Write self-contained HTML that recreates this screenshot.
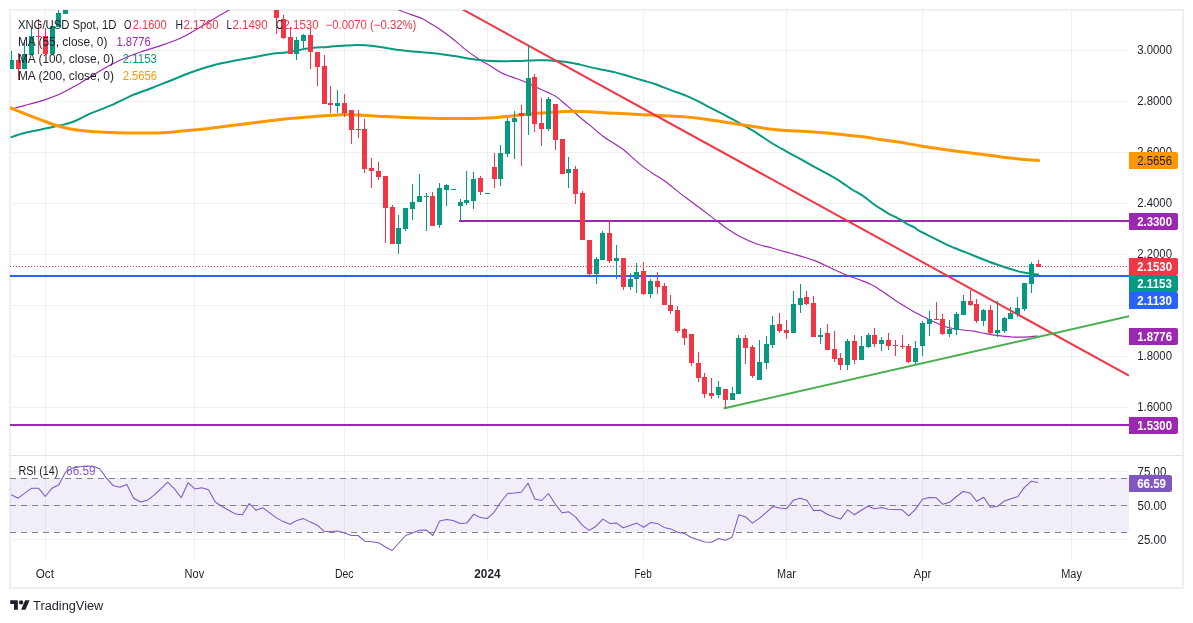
<!DOCTYPE html>
<html lang="en"><head><meta charset="utf-8"><title>XNG/USD Spot, 1D - TradingView</title>
<style>html,body{margin:0;padding:0;background:#fff}body{width:1193px;height:623px;overflow:hidden}svg{display:block}text{font-family:"Liberation Sans",sans-serif;font-size:12px;fill:#1C202B}.b{font-weight:bold;fill:#fff}</style></head><body>
<svg width="1193" height="623" viewBox="0 0 1193 623">
<defs><clipPath id="cp"><rect x="10" y="10" width="1119" height="445"/></clipPath>
<clipPath id="cr"><rect x="10" y="456" width="1119" height="104"/></clipPath></defs>
<rect x="0" y="0" width="1193" height="623" fill="#fff"/>
<rect x="10" y="10" width="1173" height="578" fill="none" stroke="#EDEFF5" stroke-width="2" shape-rendering="crispEdges"/>
<path d="M11 50.5H1129M11 101.5H1129M11 152.5H1129M11 203.5H1129M11 254.5H1129M11 305.5H1129M11 356.5H1129M11 407.5H1129M11 471.5H1129M11 505.5H1129M11 539.5H1129" stroke="#2A2E39" stroke-opacity="0.065" stroke-width="1" fill="none" shape-rendering="crispEdges"/>
<path d="M45.5 11V560M194.5 11V560M344.5 11V560M487.5 11V560M643.5 11V560M786.5 11V560M922.5 11V560M1071.5 11V560" stroke="#2A2E39" stroke-opacity="0.065" stroke-width="1" fill="none" shape-rendering="crispEdges"/>
<rect x="10" y="478" width="1119" height="54" fill="#7E57C2" fill-opacity="0.1"/>
<path d="M10 478.5H1129 M10 505.5H1129 M10 532.5H1129" stroke="#80838D" stroke-width="1" stroke-dasharray="6 5" fill="none" shape-rendering="crispEdges"/>
<g clip-path="url(#cp)">
<path d="M10 276H1129" stroke="#2962FF" stroke-width="2" fill="none"/>
<path d="M10 425H1129 M459 221H1129" stroke="#9C27B0" stroke-width="2" fill="none"/>
<path d="M10.6 109.2C13.0 108.6 19.4 107.0 25.2 105.4C31.0 103.8 39.5 101.5 45.4 99.6C51.3 97.7 55.5 96.1 60.5 93.8C65.5 91.5 70.1 88.8 75.6 85.7C81.1 82.6 87.4 78.4 93.3 74.9C99.2 71.4 105.5 67.7 110.9 64.8C116.4 61.9 121.0 59.7 126 57.5C131.1 55.3 135.3 53.7 141.2 51.7C147.1 49.7 154.6 47.7 161.3 45.4C168.0 43.1 176.0 40.2 181.5 37.8C187.0 35.4 189.1 33.7 194.1 30.8C199.1 27.9 206.0 23.6 211.7 20.2C217.4 16.8 223.4 13.3 228.1 10.6C232.8 7.9 238.0 5.1 240 4M390 5C391.5 5.8 395.4 8.5 398.9 10.1C402.4 11.7 407.3 13.3 411 14.6C414.7 15.9 417.7 16.6 421.1 18.1C424.5 19.7 427.8 21.9 431.2 23.9C434.6 25.9 437.5 27.6 441.3 30.2C445.1 32.9 449.7 36.4 453.9 39.8C458.1 43.2 462.3 47.2 466.5 50.4C470.7 53.6 474.9 56.5 479.1 59.2C483.3 61.9 487.9 64.5 491.7 66.8C495.5 69.1 498.3 71.4 501.7 73.1C505.1 74.8 507.6 75.3 511.8 76.9C516.0 78.5 522.4 80.7 527 82.7C531.6 84.7 535.0 86.5 539.6 88.7C544.2 90.9 550.1 92.9 554.7 95.8C559.3 98.7 563.1 102.3 567.3 105.9C571.5 109.5 576.1 114.0 579.9 117.2C583.7 120.5 586.3 122.3 590.1 125.4C593.9 128.5 598.5 132.8 602.7 136C606.9 139.2 611.8 142.0 615.3 144.3C618.8 146.6 620.9 147.8 623.8 150C626.7 152.2 629.5 154.9 632.6 157.6C635.8 160.3 639.3 163.8 642.7 166.4C646.1 169.0 649.0 170.9 652.8 173.4C656.6 175.9 661.2 178.5 665.4 181.5C669.6 184.5 673.8 188.3 678 191.6C682.2 194.9 686.4 198.0 690.6 201.2C694.8 204.3 699.0 207.3 703.2 210.5C707.4 213.7 711.6 216.9 715.8 220.1C720.0 223.2 724.2 226.6 728.4 229.4C732.6 232.2 736.4 234.6 741 237C745.6 239.4 751.1 242.0 756.1 243.8C761.1 245.6 766.2 246.4 771.2 247.8C776.2 249.2 781.4 250.7 786.4 252.1C791.4 253.5 796.5 254.8 801.5 256.4C806.5 257.9 811.6 259.4 816.6 261.4C821.6 263.4 826.7 266.2 831.7 268.5C836.8 270.8 842.3 273.4 846.9 275.3C851.5 277.2 855.2 278.2 859.5 279.8C863.8 281.4 868.3 282.9 872.6 285.2C876.9 287.4 881.0 290.5 885.2 293.3C889.4 296.1 893.6 299.4 897.8 302.1C902.0 304.8 906.2 307.3 910.4 309.7C914.6 312.1 919.2 314.5 923 316.5C926.8 318.5 929.3 319.8 933.1 321.5C936.9 323.2 941.1 325.4 945.7 326.8C950.3 328.2 956.2 329.1 960.8 329.8C965.4 330.5 969.2 330.5 973.4 331.1C977.6 331.7 981.8 332.9 986 333.6C990.2 334.4 994.5 335.1 998.7 335.6C1002.9 336.2 1007.1 336.6 1011.3 336.9C1015.5 337.1 1019.4 337.2 1023.9 337.1C1028.3 337.0 1035.7 336.3 1038 336.1" stroke="#9C27B0" stroke-width="1.15" fill="none" stroke-linejoin="round"/>
<path d="M10.6 137.4C13.0 136.6 19.4 134.3 25.2 132.8C31.0 131.3 39.5 129.8 45.4 128.6C51.3 127.3 55.9 126.4 60.5 125.3C65.1 124.2 68.1 123.8 73.1 121.8C78.1 119.8 84.4 116.1 90.7 113.4C97.0 110.7 104.2 108.3 110.9 105.4C117.6 102.5 124.4 98.7 131.1 95.8C137.8 92.9 144.5 90.8 151.2 88.2C157.9 85.6 164.2 83.0 171.4 80.2C178.6 77.4 186.9 73.8 194.1 71.3C201.2 68.8 208.0 66.7 214.3 65C220.6 63.3 225.6 62.5 231.9 61.3C238.2 60.0 245.4 58.8 252.1 57.5C258.8 56.2 266.3 54.6 272.2 53.7C278.1 52.8 281.5 53.1 287.4 52.2C293.3 51.3 300.9 49.3 307.6 48.4C314.3 47.5 321.5 47.4 327.8 46.9C334.1 46.4 340.4 45.9 345.5 45.6C350.6 45.3 353.5 45.0 358.1 45.1C362.7 45.2 368.6 45.6 373.2 46.1C377.8 46.6 381.6 47.3 385.8 47.9C390.0 48.5 393.4 49.3 398.4 49.9C403.4 50.5 409.7 51.1 416 51.7C422.3 52.3 429.9 52.7 436.2 53.4C442.5 54.1 448.0 55.1 453.9 56C459.8 56.9 466.1 58.2 471.5 59C476.9 59.8 481.6 60.4 486.6 60.8C491.6 61.2 496.6 61.3 501.7 61.3C506.8 61.3 511.8 61.1 516.9 61C521.9 60.9 527.0 60.6 532 60.5C537.0 60.4 542.1 60.0 547.1 60.2C552.1 60.4 557.6 61.0 562.2 61.5C566.8 62.0 571.8 63.0 574.8 63.5C577.8 64.0 576.2 63.7 580 64.6C583.8 65.5 591.7 67.4 597.6 68.7C603.5 70.0 609.8 71.1 615.3 72.4C620.8 73.7 625.8 75.4 630.4 76.7C635.0 78.0 638.8 79.2 643 80.5C647.2 81.8 651.0 82.7 655.6 84.3C660.2 85.9 665.7 88.2 670.7 90.1C675.8 92.0 681.3 93.7 685.9 95.6C690.5 97.5 694.3 99.3 698.5 101.4C702.7 103.5 706.5 105.8 711.1 108.2C715.7 110.6 721.2 113.2 726.2 115.8C731.2 118.4 736.2 121.2 741.3 124.1C746.3 126.9 751.5 129.8 756.5 132.9C761.5 136.1 766.6 139.9 771.6 143C776.6 146.1 781.7 148.8 786.7 151.6C791.7 154.4 796.5 156.8 801.5 159.6C806.5 162.3 811.1 165.1 816.6 168.1C822.1 171.1 829.2 174.7 834.3 177.7C839.3 180.7 843.8 183.9 846.9 186C850.0 188.1 850.4 188.5 852.8 190C855.2 191.5 859.1 193.4 861.5 194.9C863.9 196.4 864.7 197.2 866.9 198.8C869.1 200.5 872.0 203.0 874.6 204.8C877.2 206.6 879.8 208.2 882.2 209.7C884.6 211.2 886.4 212.5 888.8 213.8C891.2 215.1 894.2 216.4 896.4 217.5C898.6 218.6 900.1 219.3 901.9 220.4C903.7 221.5 905.1 222.9 907.3 224.1C909.5 225.3 913.2 226.7 915 227.7C916.8 228.7 915.0 228.5 918 230.2C921.0 231.9 928.1 235.3 933.1 237.8C938.1 240.3 942.7 243.0 948.2 245.4C953.7 247.8 960.4 250.2 965.9 252.4C971.4 254.6 976.0 256.5 981 258.5C986.0 260.5 991.1 262.5 996.1 264.3C1001.1 266.1 1006.7 267.9 1011.3 269.3C1015.9 270.7 1019.3 271.7 1023.9 272.6C1028.5 273.5 1036.5 274.3 1039 274.6" stroke="#089981" stroke-width="2" fill="none" stroke-linejoin="round"/>
<path d="M10.6 107.9C13.0 108.9 20.2 111.9 25.2 113.9C30.1 115.9 34.8 117.7 40.3 119.7C45.8 121.7 52.1 124.3 58 126C63.9 127.7 69.3 128.8 75.6 129.8C81.9 130.8 89.1 131.3 95.8 131.8C102.5 132.3 108.4 132.6 116 132.8C123.6 133.0 133.6 133.1 141.2 133.1C148.8 133.1 154.6 133.1 161.3 132.8C168.0 132.5 174.8 131.7 181.5 131.1C188.2 130.5 195.0 130.0 201.7 129.3C208.4 128.6 215.1 127.6 221.8 126.8C228.5 126.0 235.3 125.1 242 124.3C248.7 123.5 255.5 122.6 262.2 121.8C268.9 121.0 276.0 119.9 282.3 119.2C288.6 118.5 294.5 118.2 300 117.7C305.5 117.2 308.5 117.0 315.2 116.5C321.9 116.0 333.2 115.0 340.4 114.7C347.5 114.4 351.8 114.7 358.1 114.9C364.4 115.2 370.6 115.8 378.2 116.2C385.8 116.6 395.0 117.2 403.4 117.5C411.8 117.8 420.2 118.0 428.6 118.2C437.0 118.4 445.5 118.5 453.9 118.5C462.3 118.5 472.0 118.4 479.1 118.2C486.2 118.0 491.2 117.9 496.7 117.5C502.1 117.1 506.8 116.5 511.8 116C516.9 115.5 522.0 114.7 527 114.2C532.0 113.7 537.1 113.3 542.1 112.9C547.1 112.5 552.2 112.2 557.2 111.9C562.2 111.6 566.8 111.2 572.3 111.2C577.8 111.2 584.5 111.4 590 111.7C595.5 112.0 598.5 112.4 605.2 112.8C611.9 113.2 622.0 113.6 630.4 114C638.8 114.4 647.2 114.9 655.6 115.3C664.0 115.7 673.6 116.0 680.8 116.5C687.9 117.0 692.6 117.6 698.5 118.3C704.4 119.0 709.8 119.9 716.1 120.8C722.4 121.7 729.6 122.9 736.3 123.9C743.0 125.0 750.6 126.2 756.5 127.1C762.4 128.0 766.6 128.6 771.6 129.2C776.6 129.8 780.8 130.0 786.7 130.4C792.6 130.8 800.2 131.0 806.9 131.4C813.6 131.8 820.3 132.3 827 132.9C833.7 133.5 840.9 134.5 847.2 135.2C853.5 135.9 859.4 136.3 864.9 137C870.4 137.7 874.4 138.7 880.3 139.6C886.2 140.5 893.8 141.2 900.5 142.3C907.2 143.4 914.0 144.8 920.7 145.9C927.4 147.0 934.1 147.9 940.8 148.9C947.5 149.9 954.3 150.8 961 151.7C967.7 152.6 974.5 153.3 981.2 154.2C987.9 155.1 994.6 156.2 1001.3 157C1008.0 157.8 1015.3 158.6 1021.5 159.2C1027.7 159.8 1035.8 160.3 1038.6 160.5" stroke="#FF9800" stroke-width="3" fill="none" stroke-linejoin="round" stroke-linecap="round"/>
<path d="M455 5.2L1129 375.6" stroke="#F23645" stroke-width="2" fill="none"/>
<path d="M724.5 408.2L1129 316.3" stroke="#4CAF50" stroke-width="2" fill="none" stroke-linecap="round"/>
<path d="M10 266.5H1129" stroke="#F23645" stroke-width="1" stroke-dasharray="1 2" fill="none" shape-rendering="crispEdges"/>
<path d="M11.5 51V69M24.5 40V69M31.5 28V55M58.5 8V27M296.5 37V60M303.5 34V49M337.5 90V113M398.5 215V254M405.5 208V231M412.5 184V220M419.5 174V202M426.5 193V231M439.5 183V228M446.5 184V206M460.5 199V221M466.5 171V205M473.5 172V209M500.5 145V186M507.5 118V157M514.5 111V159M528.5 45V135M548.5 97V131M568.5 157V188M596.5 257V284M602.5 231V260M616.5 245V279M630.5 273V290M636.5 263V293M650.5 279V298M718.5 381V398M732.5 387V400M738.5 335V394M759.5 340V380M766.5 336V369M772.5 316V348M793.5 291V333M800.5 284V313M820.5 328V344M847.5 339V370M861.5 336V360M868.5 333V348M881.5 337V351M915.5 341V365M922.5 321V356M929.5 311V336M949.5 320V337M956.5 312V335M963.5 295V315M983.5 309V326M997.5 301V337M1004.5 317V333M1010.5 307V319M1017.5 297V317M1024.5 283V311M1031.5 262V293" stroke="#089981" stroke-width="1" fill="none" shape-rendering="crispEdges"/>
<path d="M9 60h5v9h-5zM22 54h5v15h-5zM29 36h5v19h-5zM50 26h5v28h-5zM56 13h5v14h-5zM63 5h5v9h-5zM294 40h5v14h-5zM301 35h5v6h-5zM335 103h5v3h-5zM396 228h5v16h-5zM403 208h5v21h-5zM410 202h5v7h-5zM417 196h5v6h-5zM424 196h5v1h-5zM437 188h5v37h-5zM444 185h5v5h-5zM451 189h5v1h-5zM458 202h5v4h-5zM464 200h5v3h-5zM471 179h5v22h-5zM485 193h5v1h-5zM498 153h5v26h-5zM505 121h5v33h-5zM512 118h5v4h-5zM526 78h5v38h-5zM546 99h5v30h-5zM566 169h5v4h-5zM594 259h5v15h-5zM600 233h5v27h-5zM614 258h5v3h-5zM628 279h5v8h-5zM634 272h5v7h-5zM648 281h5v13h-5zM716 387h5v8h-5zM730 393h5v7h-5zM736 338h5v56h-5zM757 362h5v18h-5zM764 344h5v19h-5zM770 325h5v20h-5zM791 304h5v29h-5zM798 298h5v7h-5zM818 335h5v2h-5zM845 341h5v24h-5zM859 346h5v14h-5zM866 335h5v12h-5zM879 340h5v4h-5zM913 348h5v14h-5zM920 323h5v23h-5zM927 319h5v5h-5zM947 329h5v5h-5zM954 314h5v16h-5zM961 301h5v14h-5zM981 310h5v11h-5zM995 330h5v3h-5zM1002 318h5v13h-5zM1008 313h5v6h-5zM1015 308h5v6h-5zM1022 283h5v26h-5zM1029 264h5v20h-5z" fill="#089981" shape-rendering="crispEdges"/>
<path d="M18.5 53V80M38.5 19V54M45.5 28V54M276.5 5V34M283.5 15V39M290.5 27V54M310.5 27V69M317.5 52V86M324.5 55V104M330.5 86V113M344.5 94V117M351.5 110V144M358.5 110V138M364.5 119V173M371.5 158V188M378.5 162V180M385.5 176V243M392.5 205V244M432.5 192V226M480.5 176V195M494.5 153V188M521.5 105V166M534.5 74V132M541.5 98V146M555.5 104V150M575.5 166V204M582.5 191V240M589.5 240V275M609.5 220V263M623.5 258V290M643.5 262V295M657.5 272V294M664.5 283V305M670.5 295V314M677.5 306V333M684.5 328V345M691.5 334V366M698.5 352V382M704.5 373V398M711.5 378V399M725.5 389V408M745.5 335V364M752.5 345V378M779.5 313V333M786.5 320V339M806.5 291V305M813.5 296V337M827.5 324V350M834.5 331V362M840.5 353V370M854.5 335V364M874.5 328V347M888.5 333V350M895.5 340V356M902.5 335V349M908.5 344V363M936.5 302V320M942.5 314V335M970.5 290V306M976.5 299V323M990.5 305V334M1038.5 260V267" stroke="#F23645" stroke-width="1" fill="none" shape-rendering="crispEdges"/>
<path d="M16 60h5v9h-5zM36 36h5v1h-5zM43 36h5v18h-5zM274 5h5v13h-5zM281 19h5v19h-5zM288 37h5v17h-5zM308 35h5v17h-5zM315 52h5v15h-5zM322 66h5v38h-5zM328 103h5v2h-5zM342 103h5v10h-5zM349 110h5v20h-5zM356 129h5v1h-5zM362 129h5v40h-5zM369 168h5v3h-5zM376 171h5v6h-5zM383 176h5v32h-5zM390 207h5v37h-5zM430 196h5v30h-5zM478 178h5v14h-5zM492 167h5v12h-5zM519 113h5v3h-5zM532 77h5v47h-5zM539 123h5v6h-5zM553 104h5v36h-5zM560 139h5v35h-5zM573 169h5v25h-5zM580 193h5v47h-5zM587 240h5v34h-5zM607 233h5v28h-5zM621 258h5v29h-5zM641 271h5v23h-5zM655 281h5v6h-5zM662 286h5v19h-5zM668 305h5v6h-5zM675 310h5v21h-5zM682 329h5v9h-5zM689 334h5v29h-5zM696 363h5v15h-5zM702 377h5v17h-5zM709 393h5v3h-5zM723 389h5v11h-5zM743 338h5v10h-5zM750 347h5v29h-5zM777 324h5v7h-5zM784 330h5v3h-5zM804 297h5v7h-5zM811 303h5v34h-5zM825 333h5v17h-5zM832 349h5v10h-5zM838 358h5v7h-5zM852 341h5v19h-5zM872 335h5v9h-5zM886 340h5v6h-5zM893 345h5v1h-5zM900 346h5v1h-5zM906 346h5v16h-5zM934 319h5v1h-5zM940 319h5v15h-5zM968 301h5v4h-5zM974 304h5v17h-5zM988 310h5v23h-5zM1036 264h5v3h-5z" fill="#F23645" shape-rendering="crispEdges"/>
</g>
<path d="M11.25 494.7 L18.05 498.2 L24.85 493.2 L31.65 488.2 L38.45 488.2 L45.25 496.5 L52.05 488.2 L58.85 484.7 L65.65 472.1 L72.45 468.1 L79.25 466.8 L86.05 466.1 L92.85 466.3 L99.65 468.8 L106.45 478.1 L113.25 485.7 L120.05 487.2 L126.85 484.4 L133.65 498.2 L140.45 502 L147.25 500.3 L154.05 495.2 L160.85 488.9 L167.65 482.2 L174.45 488.9 L181.25 497.7 L188.05 482.7 L194.85 488.9 L201.65 487.7 L208.45 489.7 L215.25 502 L222.05 506.5 L228.85 510.3 L235.65 514.1 L242.45 514.8 L249.25 503.5 L256.05 510.3 L262.85 507.8 L269.65 512.8 L276.45 517.9 L283.25 521.6 L290.05 524.3 L296.85 520.4 L303.65 518.6 L310.45 522.1 L317.25 525.2 L324.05 531.2 L330.85 531.7 L337.65 530.9 L344.45 532.9 L351.25 535.5 L358.05 535.5 L364.85 541.2 L371.65 541.7 L378.45 542.8 L385.25 546.8 L392.05 550.5 L398.85 543 L405.65 535.5 L412.45 532.9 L419.25 530.2 L426.05 529.9 L432.85 535.5 L439.65 520.9 L446.45 519.6 L453.25 520.6 L460.05 523.6 L466.85 522.9 L473.65 514.3 L480.45 517.6 L487.25 518.4 L494.05 512.3 L500.85 502 L507.65 493.5 L514.45 493 L521.25 492.2 L528.05 483.2 L534.85 499 L541.65 500.5 L548.45 493.5 L555.25 504 L562.05 512.8 L568.85 511.8 L575.65 517.1 L582.45 525.4 L589.25 530.4 L596.05 526.2 L602.85 519.1 L609.65 523.4 L616.45 523.1 L623.25 527.7 L630.05 525.4 L636.85 523.1 L643.65 527.2 L650.45 522.6 L657.25 523.4 L664.05 527.4 L670.85 528.9 L677.65 532.2 L684.45 533.5 L691.25 537.5 L698.05 539.7 L704.85 542 L711.65 542.3 L718.45 538.5 L725.25 540.2 L732.05 537.2 L738.85 514.8 L745.65 516.9 L752.45 523.1 L759.25 518.4 L766.05 512.6 L772.85 506.5 L779.65 508.1 L786.45 508.8 L793.25 500.3 L800.05 498.2 L806.85 500.3 L813.65 510.6 L820.45 510.3 L827.25 514.3 L834.05 516.9 L840.85 518.9 L847.65 509.8 L854.45 514.8 L861.25 510.3 L868.05 506.3 L874.85 508.8 L881.65 507.6 L888.45 509.3 L895.25 509.6 L902.05 509.8 L908.85 515.8 L915.65 509.1 L922.45 499.3 L929.25 497.5 L936.05 497.7 L942.85 504.3 L949.65 502.3 L956.45 496.5 L963.25 491.5 L970.05 493 L976.85 501.3 L983.65 497.2 L990.45 507.3 L997.25 506.5 L1004.05 501.3 L1010.85 498.8 L1017.65 496.7 L1024.45 487.4 L1031.25 481.2 L1038.05 482.4" stroke="#7E57C2" stroke-width="1.05" fill="none" stroke-linejoin="round" clip-path="url(#cr)"/>
<path d="M10 455.5H1183" stroke="#E0E3EB" stroke-width="1" fill="none" shape-rendering="crispEdges"/>
<text x="1137.2" y="53.9" textLength="34.8" lengthAdjust="spacingAndGlyphs">3.0000</text>
<text x="1137.2" y="104.9" textLength="34.8" lengthAdjust="spacingAndGlyphs">2.8000</text>
<text x="1137.2" y="155.9" textLength="34.8" lengthAdjust="spacingAndGlyphs">2.6000</text>
<text x="1137.2" y="206.9" textLength="34.8" lengthAdjust="spacingAndGlyphs">2.4000</text>
<text x="1137.2" y="257.9" textLength="34.8" lengthAdjust="spacingAndGlyphs">2.2000</text>
<text x="1137.2" y="359.9" textLength="34.8" lengthAdjust="spacingAndGlyphs">1.8000</text>
<text x="1137.2" y="410.9" textLength="34.8" lengthAdjust="spacingAndGlyphs">1.6000</text>
<text x="1137.5" y="475.8" textLength="28.8" lengthAdjust="spacingAndGlyphs">75.00</text>
<text x="1137.5" y="509.8" textLength="28.8" lengthAdjust="spacingAndGlyphs">50.00</text>
<text x="1137.5" y="543.8" textLength="28.8" lengthAdjust="spacingAndGlyphs">25.00</text>
<path d="M1129 152h47q2 0 2 2v13q0 2 -2 2h-47z" fill="#FF9800"/>
<text x="1137.2" y="164.8" textLength="34.8" lengthAdjust="spacingAndGlyphs" fill="#1C202B" style="fill:#1C202B">2.5656</text>
<path d="M1129 213h47q2 0 2 2v13q0 2 -2 2h-47z" fill="#9C27B0"/>
<text x="1137.2" y="225.8" textLength="34.8" lengthAdjust="spacingAndGlyphs" class="b">2.3300</text>
<path d="M1129 258h47q2 0 2 2v13q0 2 -2 2h-47z" fill="#F23645"/>
<text x="1137.2" y="270.8" textLength="34.8" lengthAdjust="spacingAndGlyphs" class="b">2.1530</text>
<path d="M1129 275h47q2 0 2 2v13q0 2 -2 2h-47z" fill="#089981"/>
<text x="1137.2" y="287.8" textLength="34.8" lengthAdjust="spacingAndGlyphs" class="b">2.1153</text>
<path d="M1129 292h47q2 0 2 2v13q0 2 -2 2h-47z" fill="#2962FF"/>
<text x="1137.2" y="304.8" textLength="34.8" lengthAdjust="spacingAndGlyphs" class="b">2.1130</text>
<path d="M1129 328h47q2 0 2 2v13q0 2 -2 2h-47z" fill="#9C27B0"/>
<text x="1137.2" y="340.8" textLength="34.8" lengthAdjust="spacingAndGlyphs" class="b">1.8776</text>
<path d="M1129 417h47q2 0 2 2v13q0 2 -2 2h-47z" fill="#9C27B0"/>
<text x="1137.2" y="429.8" textLength="34.8" lengthAdjust="spacingAndGlyphs" class="b">1.5300</text>
<path d="M1129 475h41q2 0 2 2v13q0 2 -2 2h-41z" fill="#7E57C2"/>
<text x="1137.2" y="487.8" textLength="28.8" lengthAdjust="spacingAndGlyphs" class="b">66.59</text>
<text x="35.7" y="578" textLength="18.2" lengthAdjust="spacingAndGlyphs">Oct</text>
<text x="184.6" y="578" textLength="19.6" lengthAdjust="spacingAndGlyphs">Nov</text>
<text x="335" y="578" textLength="18.6" lengthAdjust="spacingAndGlyphs">Dec</text>
<text x="634.5" y="578" textLength="17.2" lengthAdjust="spacingAndGlyphs">Feb</text>
<text x="777.1" y="578" textLength="18.7" lengthAdjust="spacingAndGlyphs">Mar</text>
<text x="913.6" y="578" textLength="17.7" lengthAdjust="spacingAndGlyphs">Apr</text>
<text x="1061.2" y="578" textLength="20.7" lengthAdjust="spacingAndGlyphs">May</text>
<text x="474.3" y="578" textLength="26.2" lengthAdjust="spacingAndGlyphs" font-weight="bold">2024</text>
<text x="17.9" y="29" textLength="98.6" lengthAdjust="spacingAndGlyphs">XNG/USD Spot, 1D</text>
<text x="124.1" y="29" textLength="7.4" lengthAdjust="spacingAndGlyphs">O</text>
<text x="132.7" y="29" textLength="34" lengthAdjust="spacingAndGlyphs" fill="#F23645" style="fill:#F23645">2.1600</text>
<text x="175.5" y="29" textLength="7.5" lengthAdjust="spacingAndGlyphs">H</text>
<text x="183.4" y="29" textLength="35.2" lengthAdjust="spacingAndGlyphs" fill="#F23645" style="fill:#F23645">2.1760</text>
<text x="226.6" y="29" textLength="5.5" lengthAdjust="spacingAndGlyphs">L</text>
<text x="232.4" y="29" textLength="35.3" lengthAdjust="spacingAndGlyphs" fill="#F23645" style="fill:#F23645">2.1490</text>
<text x="276" y="29" textLength="7" lengthAdjust="spacingAndGlyphs">C</text>
<text x="283.5" y="29" textLength="35" lengthAdjust="spacingAndGlyphs" fill="#F23645" style="fill:#F23645">2.1530</text>
<text x="325.6" y="29" textLength="90.8" lengthAdjust="spacingAndGlyphs" fill="#F23645" style="fill:#F23645">−0.0070 (−0.32%)</text>
<text x="17.9" y="46" textLength="89.5" lengthAdjust="spacingAndGlyphs">MA (55, close, 0)</text>
<text x="116.5" y="46" textLength="34.3" lengthAdjust="spacingAndGlyphs" fill="#9C27B0" style="fill:#9C27B0">1.8776</text>
<text x="17.9" y="63" textLength="96" lengthAdjust="spacingAndGlyphs">MA (100, close, 0)</text>
<text x="122.7" y="63" textLength="34.3" lengthAdjust="spacingAndGlyphs" fill="#089981" style="fill:#089981">2.1153</text>
<text x="17.9" y="80" textLength="96" lengthAdjust="spacingAndGlyphs">MA (200, close, 0)</text>
<text x="122.7" y="80" textLength="34.3" lengthAdjust="spacingAndGlyphs" fill="#FF9800" style="fill:#FF9800">2.5656</text>
<text x="18.4" y="474.5" textLength="40" lengthAdjust="spacingAndGlyphs">RSI (14)</text>
<text x="66.1" y="474.5" textLength="29.4" lengthAdjust="spacingAndGlyphs" fill="#7E57C2" style="fill:#7E57C2">66.59</text>
<g transform="translate(10.2 598.2) scale(0.545 0.53)" fill="#1C202B"><path d="M14 22H7V11H0V4h14v18z"/><circle cx="20" cy="8" r="4"/><path d="M28 22h-8l7.5-18h8L28 22z"/></g>
<text x="33.1" y="609.6" textLength="70.2" lengthAdjust="spacingAndGlyphs" font-size="13">TradingView</text>
</svg></body></html>
